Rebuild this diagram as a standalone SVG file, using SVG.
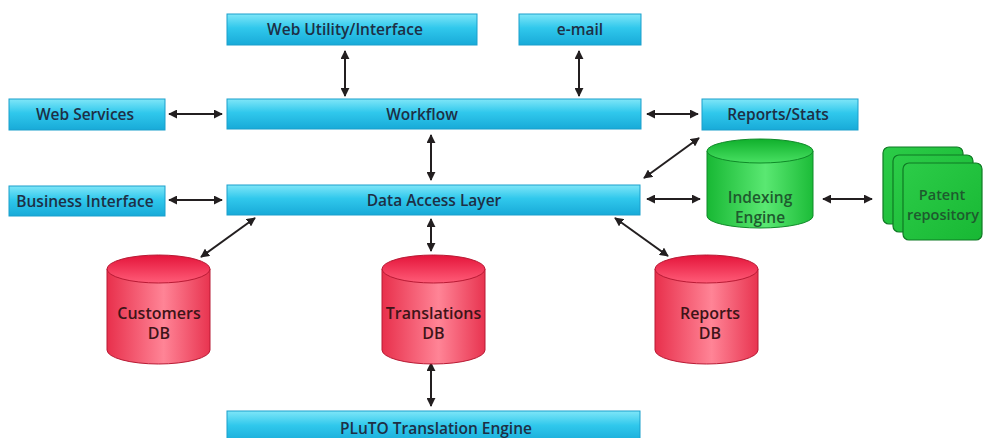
<svg xmlns="http://www.w3.org/2000/svg" width="983" height="438" viewBox="0 0 983 438">
<defs>
<linearGradient id="cyan" x1="0" y1="0" x2="0" y2="1">
<stop offset="0" stop-color="#7fe6f8"/>
<stop offset="0.45" stop-color="#30c8ec"/>
<stop offset="1" stop-color="#18aad8"/>
</linearGradient>
<linearGradient id="redBody" x1="0" y1="0" x2="1" y2="0">
<stop offset="0" stop-color="#e8304c"/>
<stop offset="0.55" stop-color="#ff8496"/>
<stop offset="1" stop-color="#e83450"/>
</linearGradient>
<linearGradient id="redTop" x1="0" y1="0" x2="0" y2="1">
<stop offset="0" stop-color="#e4143a"/>
<stop offset="1" stop-color="#ff5c78"/>
</linearGradient>
<linearGradient id="greenBody" x1="0" y1="0" x2="1" y2="0">
<stop offset="0" stop-color="#18b834"/>
<stop offset="0.55" stop-color="#5ae872"/>
<stop offset="1" stop-color="#1cbc38"/>
</linearGradient>
<linearGradient id="greenTop" x1="0" y1="0" x2="0" y2="1">
<stop offset="0" stop-color="#10b02c"/>
<stop offset="1" stop-color="#48e062"/>
</linearGradient>
<linearGradient id="greenSq" x1="0" y1="0" x2="1" y2="1">
<stop offset="0" stop-color="#2ccc48"/>
<stop offset="1" stop-color="#18b834"/>
</linearGradient>
<marker id="ah" viewBox="0 0 10 10" refX="9" refY="5" markerWidth="4.5" markerHeight="4.5" orient="auto-start-reverse">
<path d="M0,0 L10,5 L0,10 z" fill="#231f20"/>
</marker>
<style>
.box{fill:url(#cyan);stroke:#1b9fcc;stroke-width:1}
.t{font-family:"Open Sans","Liberation Sans",sans-serif;font-weight:600;font-size:15.5px;fill:#1e2f45;text-anchor:middle}
.tr{font-family:"Open Sans","Liberation Sans",sans-serif;font-weight:600;font-size:16px;fill:#3e1418;text-anchor:middle}
.tg{font-family:"Open Sans","Liberation Sans",sans-serif;font-weight:600;font-size:15.5px;fill:#1e5a2e;text-anchor:middle}
.rb{fill:url(#redBody);stroke:#b81a34;stroke-width:1}
.rt{fill:url(#redTop);stroke:#b81a34;stroke-width:1}
.gb{fill:url(#greenBody);stroke:#0f8a28;stroke-width:1}
.gt{fill:url(#greenTop);stroke:#0f8a28;stroke-width:1}
.sq{fill:url(#greenSq);stroke:#0f7a24;stroke-width:1.2}
.c{stroke:#231f20;stroke-width:2;fill:none;marker-start:url(#ah);marker-end:url(#ah)}
</style>
</defs>

<g id="connectors">
<line class="c" x1="345" y1="51" x2="345" y2="96"/>
<line class="c" x1="579" y1="51" x2="579" y2="96"/>
<line class="c" x1="169" y1="114" x2="222" y2="114"/>
<line class="c" x1="647" y1="114" x2="698" y2="114"/>
<line class="c" x1="431" y1="135" x2="431" y2="180"/>
<line class="c" x1="169" y1="200" x2="222" y2="200"/>
<line class="c" x1="699" y1="138" x2="644" y2="178"/>
<line class="c" x1="647" y1="199" x2="700" y2="199"/>
<line class="c" x1="823" y1="199" x2="872" y2="199"/>
<line class="c" x1="255" y1="218" x2="201" y2="257"/>
<line class="c" x1="431" y1="219" x2="431" y2="251"/>
<line class="c" x1="615" y1="218" x2="668" y2="256"/>
<line class="c" x1="431" y1="363" x2="431" y2="406"/>
</g>

<g id="web-utility">
<rect class="box" x="227" y="14" width="250" height="31"/>
<text class="t" x="345" y="35">Web Utility/Interface</text>
</g>
<g id="email">
<rect class="box" x="519" y="14" width="122" height="31"/>
<text class="t" x="580" y="35">e-mail</text>
</g>
<g id="web-services">
<rect class="box" x="9" y="99" width="156" height="31"/>
<text class="t" x="85" y="120">Web Services</text>
</g>
<g id="workflow">
<rect class="box" x="227" y="99" width="414" height="30"/>
<text class="t" x="422" y="119.5">Workflow</text>
</g>
<g id="reports-stats">
<rect class="box" x="702" y="99" width="156" height="31"/>
<text class="t" x="778" y="120">Reports/Stats</text>
</g>
<g id="business-interface">
<rect class="box" x="9" y="186" width="156" height="30"/>
<text class="t" x="85" y="206.5">Business Interface</text>
</g>
<g id="data-access-layer">
<rect class="box" x="227" y="185" width="413" height="30"/>
<text class="t" x="434" y="205.5">Data Access Layer</text>
</g>

<g id="indexing-engine">
<path class="gb" d="M707,151 L707,216 A53,12 0 0 0 813,216 L813,151 Z"/>
<ellipse class="gt" cx="760" cy="151" rx="53" ry="12"/>
<text class="tg" x="760" y="203">Indexing</text>
<text class="tg" x="760" y="223">Engine</text>
</g>

<g id="patent-repository">
<rect class="sq" x="883" y="147" width="80" height="77" rx="6"/>
<rect class="sq" x="893" y="155" width="80" height="77" rx="6"/>
<rect class="sq" x="903" y="163" width="79" height="77" rx="6"/>
<text class="tg" x="942" y="200" style="font-size:14.5px">Patent</text>
<text class="tg" x="943" y="220" style="font-size:14.5px">repository</text>
</g>

<g id="customers-db">
<path class="rb" d="M107,269 L107,350 A51.5,14 0 0 0 210,350 L210,269 Z"/>
<ellipse class="rt" cx="158.5" cy="269" rx="51.5" ry="14"/>
<text class="tr" x="159" y="319">Customers</text>
<text class="tr" x="159" y="339">DB</text>
</g>

<g id="translations-db">
<path class="rb" d="M382,269 L382,350 A51.5,14 0 0 0 485,350 L485,269 Z"/>
<ellipse class="rt" cx="433.5" cy="269" rx="51.5" ry="14"/>
<text class="tr" x="433.5" y="319">Translations</text>
<text class="tr" x="433.5" y="339">DB</text>
</g>

<g id="reports-db">
<path class="rb" d="M655,269 L655,350 A51.5,14 0 0 0 758,350 L758,269 Z"/>
<ellipse class="rt" cx="706.5" cy="269" rx="51.5" ry="14"/>
<text class="tr" x="710" y="319">Reports</text>
<text class="tr" x="710" y="339">DB</text>
</g>

<g id="pluto-engine">
<rect class="box" x="227" y="411" width="413" height="32"/>
<text class="t" x="436" y="434">PLuTO Translation Engine</text>
</g>
</svg>
